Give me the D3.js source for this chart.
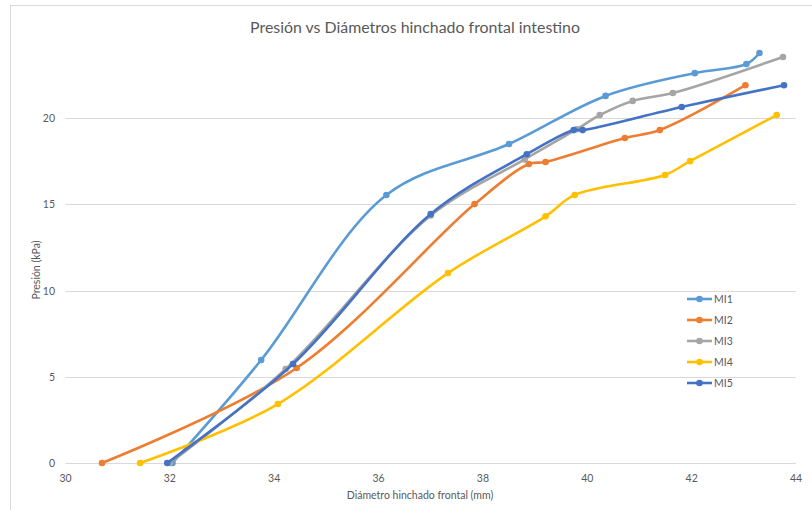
<!DOCTYPE html>
<html>
<head>
<meta charset="utf-8">
<script src="https://cdn.jsdelivr.net/npm/d3@7"></script>
<style>
  html, body { margin: 0; padding: 0; background: #fff; }
  svg { display: block; font-family: Lato, "Open Sans", sans-serif; }
</style>
</head>
<body>
<svg id="chart" width="812" height="510"></svg>
<script>
// Diameter (mm) and pressure (kPa) readings for each specimen
const mi1X = [32.05, 33.75, 36.15, 38.5, 40.35, 42.06, 43.05, 43.3];
const mi1Y = [0, 5.97, 15.54, 18.49, 21.28, 22.6, 23.13, 23.77];
const mi2X = [30.7, 34.43, 37.84, 38.88, 39.2, 40.72, 41.39, 43.03];
const mi2Y = [0, 5.51, 15.01, 17.33, 17.45, 18.84, 19.3, 21.9];
const mi3X = [32.0, 34.22, 37.0, 38.8, 39.8, 40.24, 40.87, 41.64, 43.75];
const mi3Y = [0, 5.45, 14.35, 17.6, 19.35, 20.17, 20.99, 21.45, 23.54];
const mi4X = [31.43, 34.07, 37.33, 39.2, 39.76, 41.49, 41.97, 43.63];
const mi4Y = [0, 3.42, 11.01, 14.3, 15.54, 16.7, 17.5, 20.17];
const mi5X = [31.95, 34.36, 37.0, 38.84, 39.74, 39.91, 41.81, 43.77];
const mi5Y = [0, 5.74, 14.43, 17.9, 19.3, 19.3, 20.64, 21.9];

const seriesNames = ["MI1", "MI2", "MI3", "MI4", "MI5"];
const seriesColors = ["#5B9BD5", "#ED7D31", "#A5A5A5", "#FFC000", "#4472C4"];
const seriesX = [mi1X, mi2X, mi3X, mi4X, mi5X];
const seriesY = [mi1Y, mi2Y, mi3Y, mi4Y, mi5Y];

const xTicks = [30, 32, 34, 36, 38, 40, 42, 44];
const yTicks = [0, 5, 10, 15, 20];

const svg = d3.select("#chart");
const textColor = "#595959";

// chart frame
svg.append("rect")
  .attr("x", 10.5).attr("y", 5.5)
  .attr("width", 820).attr("height", 520)
  .attr("fill", "#fff").attr("stroke", "#d9d9d9");

const x = d3.scaleLinear().domain([30, 44]).range([65.5, 796]);
const y = d3.scaleLinear().domain([0, 20]).range([463, 118]);

// horizontal gridlines
svg.append("g").selectAll("line")
  .data(yTicks).join("line")
  .attr("x1", x(30)).attr("x2", x(44))
  .attr("y1", d => Math.round(y(d)) + 0.5).attr("y2", d => Math.round(y(d)) + 0.5)
  .attr("stroke", "#d9d9d9").attr("stroke-width", 1);

// y tick labels
svg.append("g").selectAll("text")
  .data(yTicks).join("text")
  .attr("x", 55).attr("y", d => y(d) + 4)
  .attr("text-anchor", "end")
  .attr("font-size", 10.5).attr("fill", textColor)
  .text(d => d);

// x tick labels
svg.append("g").selectAll("text")
  .data(xTicks).join("text")
  .attr("x", d => x(d)).attr("y", 482)
  .attr("text-anchor", "middle")
  .attr("font-size", 10.5).attr("fill", textColor)
  .text(d => d);

// title and axis titles
svg.append("text")
  .attr("x", 415).attr("y", 33)
  .attr("text-anchor", "middle")
  .attr("font-size", 15.9).attr("fill", textColor)
  .text("Presión vs Diámetros hinchado frontal intestino");

svg.append("text")
  .attr("x", 420).attr("y", 499)
  .attr("text-anchor", "middle")
  .attr("font-size", 10.5).attr("fill", textColor)
  .text("Diámetro hinchado frontal (mm)");

svg.append("text")
  .attr("transform", "translate(40,270) rotate(-90)")
  .attr("text-anchor", "middle")
  .attr("font-size", 10.5).attr("fill", textColor)
  .text("Presión (kPa)");

// smoothed series lines with markers
const line = d3.line()
  .x(d => x(d[0])).y(d => y(d[1]))
  .curve(d3.curveCatmullRom.alpha(0.5));

seriesNames.forEach((name, i) => {
  const pts = seriesX[i].map((v, j) => [v, seriesY[i][j]]);
  const g = svg.append("g");
  g.append("path")
    .attr("d", line(pts))
    .attr("fill", "none")
    .attr("stroke", seriesColors[i])
    .attr("stroke-width", 2.6)
    .attr("stroke-linejoin", "round");
  g.selectAll("circle").data(pts).join("circle")
    .attr("cx", d => x(d[0])).attr("cy", d => y(d[1]))
    .attr("r", 3.3)
    .attr("fill", seriesColors[i]);
});

// legend
const legend = svg.append("g");
seriesNames.forEach((name, i) => {
  const ly = 299 + i * 21;
  legend.append("line")
    .attr("x1", 687).attr("x2", 712)
    .attr("y1", ly).attr("y2", ly)
    .attr("stroke", seriesColors[i]).attr("stroke-width", 2.6);
  legend.append("circle")
    .attr("cx", 699.5).attr("cy", ly).attr("r", 3.3)
    .attr("fill", seriesColors[i]);
  legend.append("text")
    .attr("x", 714).attr("y", ly + 4)
    .attr("font-size", 10.5).attr("fill", textColor)
    .text(name);
});
</script>
</body>
</html>
